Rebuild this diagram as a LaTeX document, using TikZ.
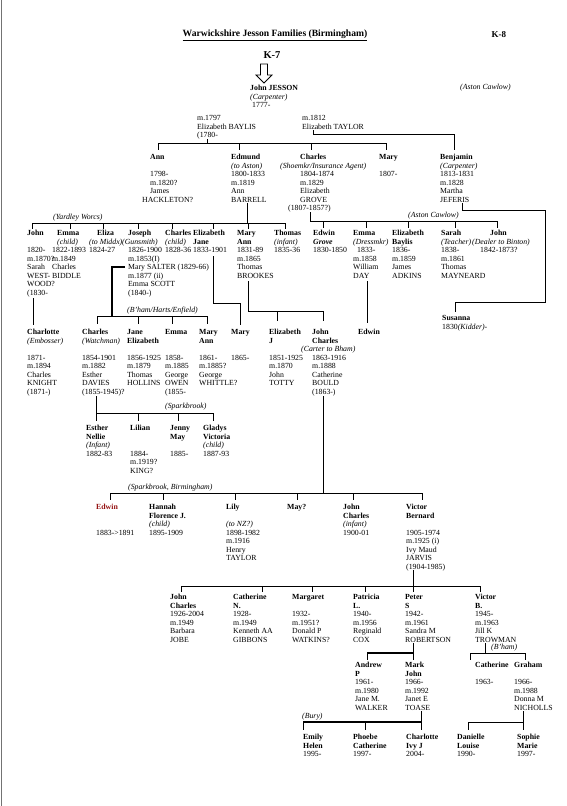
\documentclass[tikz,border=0pt]{standalone}
\usepackage{fontspec}
\setmainfont{Liberation Serif}
\definecolor{edred}{RGB}{150,20,20}
\newcommand\bnm[1]{\textbf{#1}}
\newcommand\itx[1]{\textit{#1}}
\newcommand\pn[4]{\node[person] (#1) at (#2,#3-3.4) {\strut#4};}
\newcommand\famline[5]{%
  \draw[conn] (#2,#1) -- (#3,#1);
  \foreach \tk in {#4} {\draw[conn] (\tk,#1) -- (\tk,#5);}}
\begin{document}
\begin{tikzpicture}[x=1pt,y=-1pt,
  font=\fontsize{7.8}{8.5}\selectfont,
  person/.style={anchor=north west,inner sep=0pt,align=left},
  lbl/.style={anchor=west,inner sep=0pt,font=\fontsize{7.8}{8.5}\selectfont\itshape},
  conn/.style={line width=0.75pt},
  heavy/.style={line width=1.5pt}]
\useasboundingbox (0,0) rectangle (567,806);
\fill[white] (0,0) rectangle (567,806);
\draw[black!55,line width=1pt] (1,0) -- (1,806);

% header
\node[font=\fontsize{9.6}{11}\selectfont\bfseries] (title) at (275,35) {\underline{Warwickshire Jesson Families (Birmingham)}};
\node[font=\fontsize{9}{10}\selectfont\bfseries,anchor=west] (k8) at (488,35) {K-8};
\node[font=\fontsize{10.5}{12}\selectfont\bfseries] (k7) at (272,55) {K-7};
\coordinate (arrowtop) at (264,64);
\draw[line width=0.75pt] ([xshift=-3.5pt]arrowtop) -- ++(7,0) -- ++(0,11) -- ++(4.5,0) -- ++(-8,8) -- ++(-8,-8) -- ++(4.5,0) -- cycle;

\pn{jj}{250}{88}{\bnm{John JESSON}\\\itx{(Carpenter)}\\\hspace*{2pt}1777-}
\node[lbl] (aston1) at (460,88) {(Aston Cawlow)};
\pn{baylis}{197}{118}{m.1797\\Elizabeth BAYLIS\\(1780-}
\pn{taylor}{302}{118}{m.1812\\Elizabeth TAYLOR}

% generation 1
\pn{ann}{150}{157}{\bnm{Ann}\\~\\1798-\\m.1820?\\James\\\hspace*{-8pt}HACKLETON?}
\pn{edmund}{231}{157}{\bnm{Edmund}\\\itx{(to Aston)}\\1800-1833\\m.1819\\Ann\\BARRELL}
\pn{charles}{300}{157}{\bnm{Charles}\\\hspace*{-20pt}\itx{(Shoemkr/Insurance Agent)}\\1804-1874\\m.1829\\Elizabeth\\GROVE\\\hspace*{-12pt}(1807-1857?)}
\pn{mary}{379}{157}{\bnm{Mary}\\~\\1807-}
\pn{benjamin}{440}{157}{\bnm{Benjamin}\\\itx{(Carpenter)}\\1813-1831\\m.1828\\Martha\\JEFERIS}

% generation 2
\node[lbl] (yardley) at (53,218) {(Yardley Worcs)};
\pn{johnb}{27}{233}{\bnm{John}\\~\\1820-\\m.1870?\\Sarah\\WEST-\\WOOD?\\(1830-}
\pn{emmab}{52}{233}{\hspace*{5pt}\bnm{Emma}\\\hspace*{5pt}\itx{(child)}\\1822-1893\\m.1849\\Charles\\BIDDLE}
\pn{elizab}{89}{233}{\hspace*{8pt}\bnm{Eliza}\\\itx{(to Middx)}\\1824-27}
\pn{josephb}{128}{233}{\bnm{Joseph}\\\hspace*{-6pt}\itx{(Gunsmith)}\\1826-1900\\m.1853(I)\\Mary SALTER (1829-66)\\m.1877 (ii)\\Emma SCOTT\\(1840-)}
\pn{charlesb}{165}{233}{\bnm{Charles}\\\itx{(child)}\\1828-36}
\pn{elizjb}{193}{233}{\bnm{Elizabeth}\\\bnm{Jane}\\1833-1901}
\pn{maryannb}{237}{233}{\bnm{Mary}\\\bnm{Ann}\\1831-89\\m.1865\\Thomas\\BROOKES}
\pn{thomasb}{274}{233}{\bnm{Thomas}\\\itx{(infant)}\\1835-36}
\node[lbl] (aston2) at (408,216) {(Aston Cawlow)};
\pn{edwinb}{313}{233}{\bnm{Edwin}\\\textbf{\textit{Grove}}\\1830-1850}
\pn{emmac}{353}{233}{\bnm{Emma}\\\itx{(Dressmkr)}\\\hspace*{4pt}1833-\\m.1858\\William\\DAY}
\pn{elizc}{392}{233}{\bnm{Elizabeth}\\\bnm{Baylis}\\1836-\\m.1859\\James\\ADKINS}
\pn{sarahc}{441}{233}{\bnm{Sarah}\\\itx{(Teacher)}\\1838-\\m.1861\\Thomas\\MAYNEARD}
\pn{johnc}{472}{233}{\hspace*{18pt}\bnm{John}\\\itx{(Dealer to Binton)}\\\hspace*{8pt}1842-1873?}

% generation 3
\node[lbl] (bham) at (127,311) {(B'ham/Harts/Enfield)};
\pn{charlotte}{27}{332}{\bnm{Charlotte}\\\itx{(Embosser)}\\~\\1871-\\m.1894\\Charles\\KNIGHT\\(1871-)}
\pn{charlesw}{82}{332}{\bnm{Charles}\\\itx{(Watchman)}\\~\\1854-1901\\m.1882\\Esther\\DAVIES\\(1855-1945)?}
\pn{jane}{127}{332}{\bnm{Jane}\\\bnm{Elizabeth}\\~\\1856-1925\\m.1879\\Thomas\\HOLLINS}
\pn{emmad}{165}{332}{\bnm{Emma}\\~\\~\\1858-\\m.1885\\George\\OWEN\\(1855-}
\pn{maryannd}{199}{332}{\bnm{Mary}\\\bnm{Ann}\\~\\1861-\\m.1885?\\George\\WHITTLE?}
\pn{maryd}{231}{332}{\bnm{Mary}\\~\\~\\1865-}
\pn{elizjd}{269}{332}{\bnm{Elizabeth}\\\bnm{J}\\~\\1851-1925\\m.1870\\John\\TOTTY}
\pn{johncd}{312}{332}{\bnm{John}\\\bnm{Charles}\\\hspace*{-11pt}\itx{(Carter to Bham)}\\1863-1916\\m.1888\\Catherine\\BOULD\\(1863-)}
\pn{edwind}{358}{332}{\bnm{Edwin}}
\pn{susanna}{442}{318}{\bnm{Susanna}\\1830\itx{(Kidder)}-}

% generation 4
\node[lbl] (spark) at (165,407) {(Sparkbrook)};
\pn{esther}{86}{428}{\bnm{Esther}\\\bnm{Nellie}\\\itx{(Infant)}\\1882-83}
\pn{lilian}{130}{428}{\bnm{Lilian}\\~\\~\\1884-\\m.1919?\\KING?}
\pn{jenny}{170}{428}{\bnm{Jenny}\\\bnm{May}\\~\\1885-}
\pn{gladys}{203}{428}{\bnm{Gladys}\\\bnm{Victoria}\\\itx{(child)}\\1887-93}

\node[lbl] (sparkb) at (128,488) {(Sparkbrook, Birmingham)};
\pn{edwine}{96}{507}{\textcolor{edred}{\bnm{Edwin}}\\~\\~\\1883->1891}
\pn{hannah}{149}{507}{\bnm{Hannah}\\\bnm{Florence J.}\\\itx{(child)}\\1895-1909}
\pn{lily}{226}{507}{\bnm{Lily}\\~\\\itx{(to NZ?)}\\1898-1982\\m.1916\\Henry\\TAYLOR}
\pn{may}{287}{507}{\bnm{May?}}
\pn{johnce}{343}{507}{\bnm{John}\\\bnm{Charles}\\\itx{(infant)}\\1900-01}
\pn{victor}{406}{507}{\bnm{Victor}\\\bnm{Bernard}\\~\\1905-1974\\m.1925 (i)\\Ivy Maud\\JARVIS\\(1904-1985)}

% generation 6
\pn{johncf}{170}{597}{\bnm{John}\\\bnm{Charles}\\1926-2004\\m.1949\\Barbara\\JOBE}
\pn{cathf}{233}{597}{\bnm{Catherine}\\\bnm{N.}\\1928-\\m.1949\\Kenneth AA\\GIBBONS}
\pn{margf}{292}{597}{\bnm{Margaret}\\~\\1932-\\m.1951?\\Donald P\\WATKINS?}
\pn{patf}{353}{597}{\bnm{Patricia}\\\bnm{L.}\\1940-\\m.1956\\Reginald\\COX}
\pn{peterf}{405}{597}{\bnm{Peter}\\\bnm{S}\\1942-\\m.1961\\Sandra M\\ROBERTSON}
\pn{victorf}{475}{597}{\bnm{Victor}\\\bnm{B.}\\1945-\\m.1963\\Jill K\\TROWMAN}

% generation 7
\pn{andrew}{355}{665}{\bnm{Andrew}\\\bnm{P}\\1961-\\m.1980\\Jane M.\\WALKER}
\pn{mark}{405}{665}{\bnm{Mark}\\\bnm{John}\\1966-\\m.1992\\Janet E\\TOASE}
\pn{cathg}{475}{665}{\bnm{Catherine}\\~\\1963-}
\pn{graham}{514}{665}{\bnm{Graham}\\~\\1966-\\m.1988\\Donna M\\NICHOLLS}
\node[lbl] (bhamb) at (491,648) {(B'ham)};
\node[lbl] (bury) at (302,717) {(Bury)};

% generation 8
\pn{emily}{303}{737}{\bnm{Emily}\\\bnm{Helen}\\1995-}
\pn{phoebe}{353}{737}{\bnm{Phoebe}\\\bnm{Catherine}\\1997-}
\pn{charlotteh}{406}{737}{\bnm{Charlotte}\\\bnm{Ivy J}\\2004-}
\pn{danielle}{457}{737}{\bnm{Danielle}\\\bnm{Louise}\\1990-}
\pn{sophie}{517}{737}{\bnm{Sophie}\\\bnm{Marie}\\1997-}

% connectors
\draw[conn] (207,139) -- (207,143);
\famline{143}{158}{386}{158,239,311,386}{150}
\draw[conn] (313,130) -- (313,134) -- (454,134) -- (454,150);

\draw[conn] (247,203) -- (247,223);
\famline{223}{32}{285}{32,70,103,138,172,213,248,285}{229}
\draw[conn] (310,212) -- (310,221);
\famline{221}{310}{497}{323,366,408,455,497}{228}
\draw[conn] (462,203) -- (462,210) -- (545,210) -- (545,302) -- (455,302) -- (455,312);

\draw[conn] (33,298) -- (33,325);
\draw[heavy] (125,267) -- (112,267) -- (112,316);
\famline{316}{97}{207}{97,138,172,207}{324}
\draw[conn] (213,256) -- (213,303) -- (240,303) -- (240,325);
\draw[conn] (248,281) -- (248,311) -- (323,311);
\draw[conn] (277,311) -- (277,321);
\draw[conn] (323,311) -- (323,321);
\draw[conn] (367,281) -- (367,323);

\draw[conn] (96,396) -- (96,421);
\famline{413}{96}{213}{138,178,213}{421}

\draw[conn] (323,396) -- (323,493);
\famline{493}{110}{422}{110,163,235,297,353,422}{500}

\draw[conn] (413,570) -- (413,586);
\famline{586}{181}{480}{181,262,312,365,413,480}{592}

\draw[conn] (413,643) -- (413,660);
\draw[heavy] (367,653) -- (413,653);
\draw[conn] (367,653) -- (367,660);
\draw[conn] (485,643) -- (485,653);
\famline{653}{470}{525}{470,525}{660}

\draw[conn] (421,711) -- (421,730);
\draw[heavy] (303,722) -- (421,722);
\draw[conn] (303,722) -- (303,730);
\draw[conn] (365,722) -- (365,730);
\draw[conn] (523,711) -- (523,730);
\famline{722}{468}{523}{468}{730}
\end{tikzpicture}
\end{document}
